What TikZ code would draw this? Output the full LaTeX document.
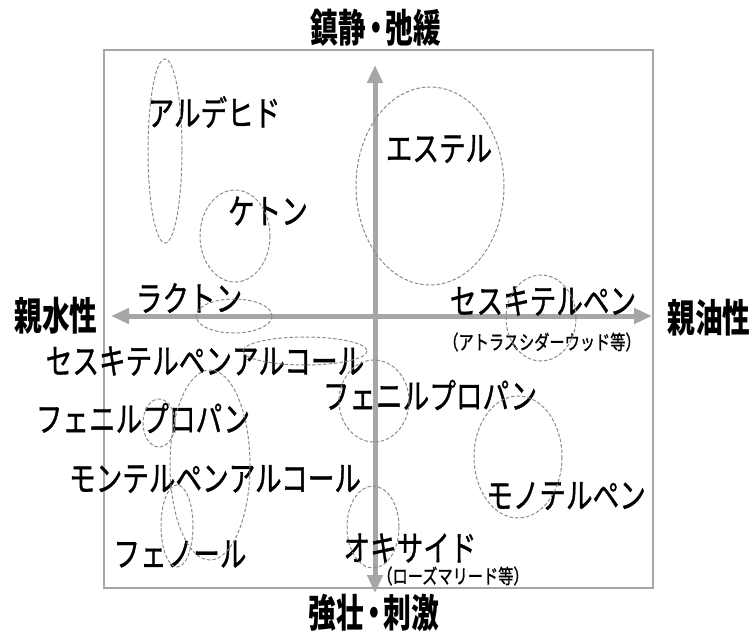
\documentclass[tikz,border=0pt]{standalone}
\usepackage{fontspec}
\newfontfamily\jp[FakeStretch=0.76, FakeBold=1]{Noto Sans CJK JP}
\newfontfamily\jphead[FakeStretch=0.71]{Noto Sans CJK JP}
\usepackage{tikz}
\usetikzlibrary{arrows.meta}
\usepackage{xcolor}
\definecolor{axisgray}{HTML}{A6A6A6}
\definecolor{ringgray}{HTML}{8A8A8A}

% narrow middle dot between the two heading words
\newcommand{\hdot}{\makebox[0.5em]{・}}

\tikzset{
  lbl/.style={inner sep=0pt, font=\jp\fontsize{35}{35}\selectfont},
  sub/.style={inner sep=0pt, font=\jp\fontsize{20}{20}\selectfont},
  head/.style={inner sep=0pt, font=\jphead\bfseries\fontsize{39}{39}\selectfont},
  axis/.style={axisgray, line width=5pt,
    {Triangle[width=15pt,length=18pt]}-{Triangle[width=15pt,length=18pt]}},
  ring/.style={ringgray, line width=1pt, dash pattern=on 3.5pt off 2pt},
}

\begin{document}
\begin{tikzpicture}[x=1pt, y=-1pt]
    \useasboundingbox (0,0) rectangle (752,633);
    \draw[axisgray, line width=1.5pt] (104,50) rectangle (653,588);

    % axes
    \coordinate (N) at (375,65);
    \coordinate (S) at (375,593);
    \coordinate (W) at (111,316);
    \coordinate (E) at (652,316);
    \draw[axis] (W) -- (E);
    \draw[axis] (S) -- (N);

    % axis names
    \node[head] (top) at (376,28) {鎮静\hdot 弛緩};
    \node[head] (bot) at (374,613) {強壮\hdot 刺激};
    \node[head] (hyd) at (56,316) {親水性};
    \node[head] (lip) at (709,318) {親油性};

    % groups
    \node[lbl] (ald) at (214,112) {アルデヒド};
    \node[lbl] (ket) at (268,211) {ケトン};
    \node[lbl] (est) at (439,149) {エステル};
    \node[lbl] (lac) at (189,298) {ラクトン};
    \node[lbl] (ses) at (543,301) {セスキテルペン};
    \node[sub] (sesx) at (542,342) {（アトラスシダーウッド等）};
    \node[lbl] (sesa) at (205,361) {セスキテルペンアルコール};
    \node[lbl] (phr) at (430,395) {フェニルプロパン};
    \node[lbl] (phl) at (143,418) {フェニルプロパン};
    \node[lbl] (mta) at (215,479) {モンテルペンアルコール};
    \node[lbl] (mon) at (566,496) {モノテルペン};
    \node[lbl] (phe) at (180,554) {フェノール};
    \node[lbl] (oxi) at (410,548) {オキサイド};
    \node[sub] (oxix) at (453,576) {（ローズマリード等）};

    % dashed rings
    \foreach \cx/\cy/\rx/\ry in {165/151/17/92, 235/236/35/46, 430/186/74/99,
      234/316/38/17, 541/318/35/43, 305/351/62/14, 374/401/35/41,
      159/423/16/24, 210/465/40/95, 177/526/16/41, 518/457/44/61,
      373/527/26/41} {
      \draw[ring] (\cx,\cy) ellipse [x radius=\rx, y radius=\ry];
    }
\end{tikzpicture}
\end{document}
